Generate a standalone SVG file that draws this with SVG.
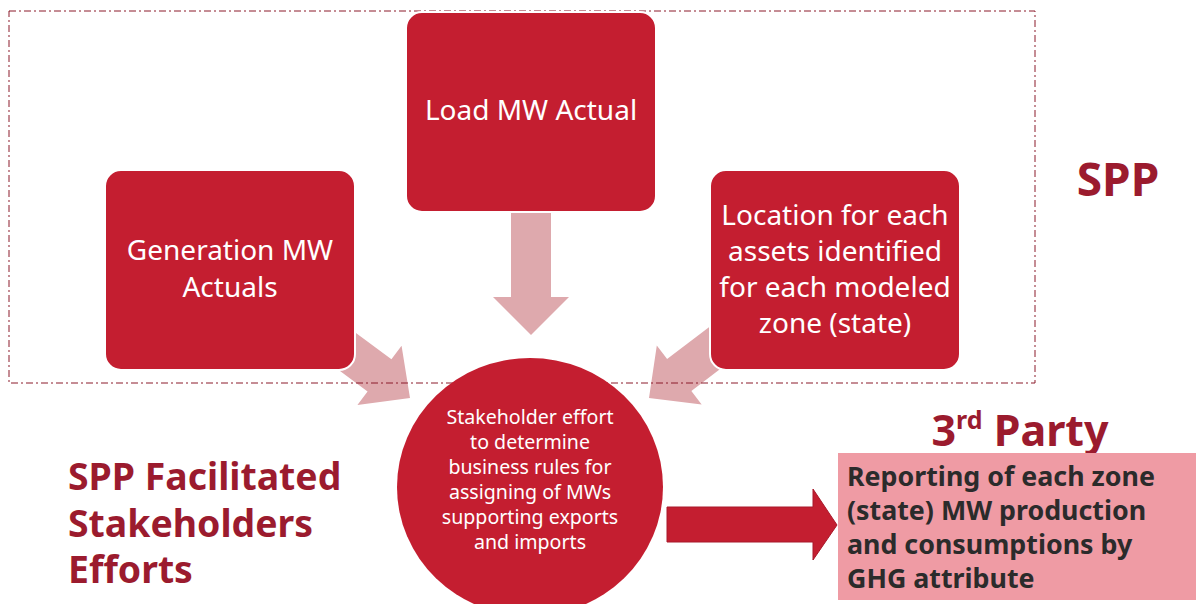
<svg xmlns="http://www.w3.org/2000/svg" width="1196" height="604" viewBox="0 0 1196 604">
<style>
.box{fill:#c41e30}
.pa{fill:#dea9ad}
.wt{fill:#fff;font-family:"Noto Sans","Open Sans",sans-serif;font-size:28px;text-anchor:middle}
.ct{fill:#fff;font-family:"Noto Sans","Open Sans",sans-serif;font-size:19.6px;text-anchor:middle}
.rt{fill:#9b1b2e;font-family:"Noto Sans","Open Sans",sans-serif;font-weight:bold}
.gt{fill:#2b2b2b;font-family:"Noto Sans","Open Sans",sans-serif;font-weight:bold;font-size:26.8px}
</style>
<rect width="1196" height="604" fill="#fff"/>
<g id="connectors">
<path class="pa" d="M0,0 L-38,-38 L-38,-20 L-122,-20 L-122,20 L-38,20 L-38,38 Z" transform="translate(531,335) rotate(90)"/>
<path class="pa" d="M0,0 L-38,-37 L-38,-20 L-115,-20 L-115,20 L-38,20 L-38,37 Z" transform="translate(410,398) rotate(36.6)"/>
<path class="pa" d="M0,0 L-38,-37 L-38,-20 L-115,-20 L-115,20 L-38,20 L-38,37 Z" transform="translate(649,398) rotate(142.7)"/>
<path fill="#c41e30" stroke="#a8182a" stroke-width="1" d="M667,507 L813,507 L813,489 L837,525 L813,560 L813,542 L667,542 Z"/>
</g>
<rect id="spp-boundary" x="9" y="11" width="1026" height="372" fill="none" stroke="#8b1a2a" stroke-width="1" stroke-dasharray="7 3 2 3"/>
<g id="node-load">
<rect class="box" x="406" y="12" width="250" height="200" rx="16" stroke="#fff" stroke-width="2"/>
<text class="wt" x="531" y="120">Load MW Actual</text>
</g>
<g id="node-generation">
<rect class="box" x="105" y="170" width="250" height="200" rx="16" stroke="#fff" stroke-width="2"/>
<text class="wt" x="230" y="260">Generation MW</text>
<text class="wt" x="230" y="297">Actuals</text>
</g>
<g id="node-location">
<rect class="box" x="710" y="170" width="250" height="200" rx="16" stroke="#fff" stroke-width="2"/>
<text class="wt" x="835" y="225">Location for each</text>
<text class="wt" x="835" y="261">assets identified</text>
<text class="wt" x="835" y="297">for each modeled</text>
<text class="wt" x="835" y="333">zone (state)</text>
</g>
<g id="node-stakeholder">
<ellipse cx="530" cy="487" rx="133" ry="129" fill="#c41e30"/>
<text class="ct" x="530" y="424">Stakeholder effort</text>
<text class="ct" x="530" y="449">to determine</text>
<text class="ct" x="530" y="474">business rules for</text>
<text class="ct" x="530" y="499">assigning of MWs</text>
<text class="ct" x="530" y="524">supporting exports</text>
<text class="ct" x="530" y="549">and imports</text>
</g>
<g id="label-spp">
<text class="rt" x="1118" y="196" font-size="46" text-anchor="middle">SPP</text>
</g>
<g id="label-facilitated">
<text class="rt" x="68" y="490" font-size="37.4">SPP Facilitated</text>
<text class="rt" x="68" y="537" font-size="37.4">Stakeholders</text>
<text class="rt" x="68" y="583" font-size="37.4">Efforts</text>
</g>
<g id="label-3rdparty">
<text class="rt" x="1020" y="446" font-size="43" text-anchor="middle">3<tspan font-size="25" dy="-17">rd</tspan><tspan dy="17"> Party</tspan></text>
</g>
<g id="node-reporting">
<rect x="838" y="453" width="358" height="147" fill="#ef9ba4"/>
<text class="gt" x="847" y="486">Reporting of each zone</text>
<text class="gt" x="847" y="520">(state) MW production</text>
<text class="gt" x="847" y="554">and consumptions by</text>
<text class="gt" x="847" y="588">GHG attribute</text>
</g>
</svg>
